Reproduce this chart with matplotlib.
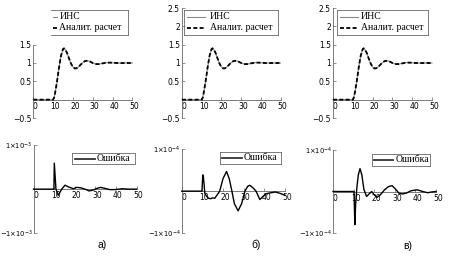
import matplotlib
matplotlib.use('Agg')
import matplotlib.pyplot as plt
from matplotlib.lines import Line2D
import matplotlib.transforms as mtransforms

W, H = 450, 262

# ---------------- data ----------------
time = [0, 2, 4, 6, 8, 10, 10.5, 11, 12, 13, 14, 15, 15.5, 16, 17, 18, 19, 20,
        21, 22, 23, 24, 25, 26, 27, 28, 29, 30, 31, 32, 33, 34, 35, 36, 37,
        38, 39, 40, 42, 44, 46, 48, 50]
response = [0, 0, 0, 0, 0, 0, 0.05, 0.18, 0.5, 0.88, 1.2, 1.38, 1.40, 1.38,
            1.28, 1.13, 0.99, 0.89, 0.85, 0.86, 0.9, 0.96, 1.01, 1.05, 1.06,
            1.055, 1.03, 1.0, 0.98, 0.97, 0.97, 0.98, 0.99, 1.0, 1.01, 1.01,
            1.01, 1.005, 1.0, 0.998, 1.0, 1.0, 1.0]
ins_response = response
analytic_response = response

# errors (panel a in units of 1e-3, panels b, c in units of 1e-4)
err_a_t = [0, 9.9, 10.1, 10.9, 12.0, 13.7, 15.3, 17, 19.3, 21, 23, 25, 27, 29,
           31, 32.5, 34.5, 37, 40, 43, 46, 50]
err_a = [0, 0, 0.59, 0.0, -0.14, 0.0, 0.09, 0.05, 0.01, 0.04, 0.03, 0.0,
         -0.04, -0.02, 0.02, 0.04, 0.02, -0.01, -0.01, 0.01, 0.0, 0.0]

err_b_t = [0, 9.8, 10.2, 10.5, 11.2, 12, 13, 14, 15, 16, 17, 18.4, 20, 21.7,
           23, 24.3, 25.5, 27.3, 29, 30.6, 32, 33, 34.5, 36, 37.8, 39.5, 41,
           43, 45.3, 47.5, 50]
err_b = [0, 0, 0.39, 0.35, -0.05, -0.12, -0.17, -0.18, -0.16, -0.17, -0.1,
         0.0, 0.3, 0.47, 0.3, 0.0, -0.3, -0.47, -0.3, 0.0, 0.12, 0.14, 0.08,
         0.0, -0.2, -0.12, -0.06, -0.04, -0.02, -0.05, -0.1]

err_c_t = [0, 10.2, 10.6, 11.0, 11.6, 12.3, 13.1, 14, 15, 16.3, 17.5, 18.8,
           20, 21.4, 23, 25, 27, 28.7, 30.5, 32, 33.7, 35.5, 38, 41, 43.5, 46,
           48, 50]
err_c = [0, 0, -0.8, -0.3, 0.1, 0.4, 0.55, 0.4, 0.05, -0.12, -0.06, 0.0,
         -0.08, -0.14, -0.08, 0.04, 0.12, 0.14, 0.05, -0.04, -0.06, -0.04,
         0.02, 0.04, 0.0, -0.03, -0.01, 0.0]

x_ticks = [0, 10, 20, 30, 40, 50]
x_labels = ['0', '10', '20', '30', '40', '50']
top_yticks_a = [-0.5, 0.5, 1, 1.5]
top_yticks_bc = [-0.5, 0.5, 1, 1.5, 2, 2.5]
err_yticks = [-1, 1]
err_labels_a = [r'$-1{\times}10^{-3}$', r'$1{\times}10^{-3}$']
err_labels_bc = [r'$-1{\times}10^{-4}$', r'$1{\times}10^{-4}$']
panel_names = ['а)', 'б)', 'в)']
legend_top = ['ИНС', 'Аналит. расчет']
legend_err = 'Ошибка'

# ---------------- figure ----------------
fig = plt.figure(figsize=(4.5, 2.62), dpi=100)
AX = '#666666'
SERIF = 'Liberation Serif'


def fx(x):
    return x / W


def fy(y):
    return 1 - y / H


def make_axes(l, r, t, b):
    return fig.add_axes([fx(l), fy(b), (r - l) / W, (b - t) / H])


def fmt(v):
    s = ('%g' % v)
    return s.replace('-', '\u2212')


def style(ax, ylim, ybounds, yticks, ylabels, ylabelsize=5.5, ypad=1.5):
    ax.set_xlim(0, 50)
    ax.set_ylim(*ylim)
    ax.patch.set_visible(False)
    for s in ['top', 'right']:
        ax.spines[s].set_visible(False)
    ax.spines['left'].set_position(('data', 0))
    ax.spines['bottom'].set_position(('data', 0))
    ax.spines['left'].set_bounds(*ybounds)
    ax.spines['bottom'].set_bounds(0, 50)
    for s in ['left', 'bottom']:
        ax.spines[s].set_color(AX)
        ax.spines[s].set_linewidth(0.6)
    ax.set_xticks(x_ticks)
    ax.set_xticklabels(x_labels)
    ax.set_yticks(yticks)
    ax.set_yticklabels(ylabels)
    ax.tick_params(axis='both', direction='in', length=2.5, width=0.5,
                   color=AX, labelsize=5.5, pad=1.5)
    ax.tick_params(axis='y', labelsize=ylabelsize, pad=ypad)
    off = mtransforms.ScaledTranslation(2 / 100, 0, fig.dpi_scale_trans)
    for lbl in ax.get_xticklabels():
        lbl.set_transform(lbl.get_transform() + off)


# top panels
top_x = [(33.3, 132.3), (182, 280.5), (333, 432)]
for i, (l, r) in enumerate(top_x):
    ax = make_axes(l, r, 8, 118)
    if i == 0:
        style(ax, (-0.5, 2.5), (-0.5, 1.5), top_yticks_a,
              [fmt(v) for v in top_yticks_a])
    else:
        style(ax, (-0.5, 2.5), (-0.5, 2.5), top_yticks_bc,
              [fmt(v) for v in top_yticks_bc])
    ax.plot(time, ins_response, color='#888888', lw=0.8, clip_on=False,
            zorder=3)
    ax.plot(time, analytic_response, color='black', lw=1.3,
            linestyle=(0, (2.2, 1.3)), clip_on=False, zorder=4)

# bottom panels
bot = [((33.5, 136.5, 145, 233.3), err_a_t, err_a, err_labels_a),
       ((181.7, 285, 149.3, 233), err_b_t, err_b, err_labels_bc),
       ((333, 436, 150, 233), err_c_t, err_c, err_labels_bc)]
for (l, r, t, b), et, ev, labs in bot:
    ax = make_axes(l, r, t, b)
    style(ax, (-1, 1), (-1, 1), err_yticks, labs, ylabelsize=4.9, ypad=0.8)
    ax.plot(et, ev, color='black', lw=1.0, clip_on=False, zorder=4)


# ---------------- legends (figure pixel coords) ----------------
def fline(x0, x1, y0, y1, **kw):
    fig.add_artist(Line2D([fx(x0), fx(x1)], [fy(y0), fy(y1)],
                          transform=fig.transFigure, **kw))


def ftext(x, y, s, **kw):
    fig.text(fx(x), fy(y), s, transform=fig.transFigure, **kw)


box_lw = 0.6
# top legends: (box left, box right, sample x0, x1, text x, left edge drawn)
top_leg = [(51, 128, 52.5, 57.5, 59.5, False),
           (184, 278, 187, 205, 210, True),
           (337, 428, 340, 358, 361, True)]
for bl, br, s0, s1, tx, left_edge in top_leg:
    bt, bb = 10, 35
    fline(bl, br, bt, bt, color=AX, lw=box_lw)
    fline(bl, br, bb, bb, color=AX, lw=box_lw)
    fline(br, br, bt, bb, color=AX, lw=box_lw)
    if left_edge:
        fline(bl, bl, bt, bb, color=AX, lw=box_lw)
    fline(s0, s1, 16.5, 16.5, color='#888888', lw=0.8)
    fline(s0, s1, 28, 28, color='black', lw=1.3, linestyle=(0, (2.2, 1.3)))
    ftext(tx, 16.5, legend_top[0], family=SERIF, fontsize=7, va='center',
          ha='left')
    ftext(tx, 28, legend_top[1], family=SERIF, fontsize=7, va='center',
          ha='left')

bot_leg = [(72, 135, 153, 164, 75, 95, 97),
           (220, 281, 152, 164, 222, 242, 243.5),
           (372, 430, 154, 166, 373.5, 393, 396)]
for bl, br, bt, bb, s0, s1, tx in bot_leg:
    for (a, b_, c, d) in [(bl, br, bt, bt), (bl, br, bb, bb),
                          (bl, bl, bt, bb), (br, br, bt, bb)]:
        fline(a, b_, c, d, color=AX, lw=box_lw)
    ym = (bt + bb) / 2
    fline(s0, s1, ym, ym, color='#333333', lw=1.3)
    ftext(tx, ym, legend_err, family=SERIF, fontsize=7, va='center',
          ha='left')

for name, (x, y) in zip(panel_names, [(102, 245), (256, 245), (408, 246)]):
    ftext(x, y, name, family='Liberation Sans', fontsize=7.5, ha='center',
          va='center')

fig.savefig('out.png', dpi=100)
